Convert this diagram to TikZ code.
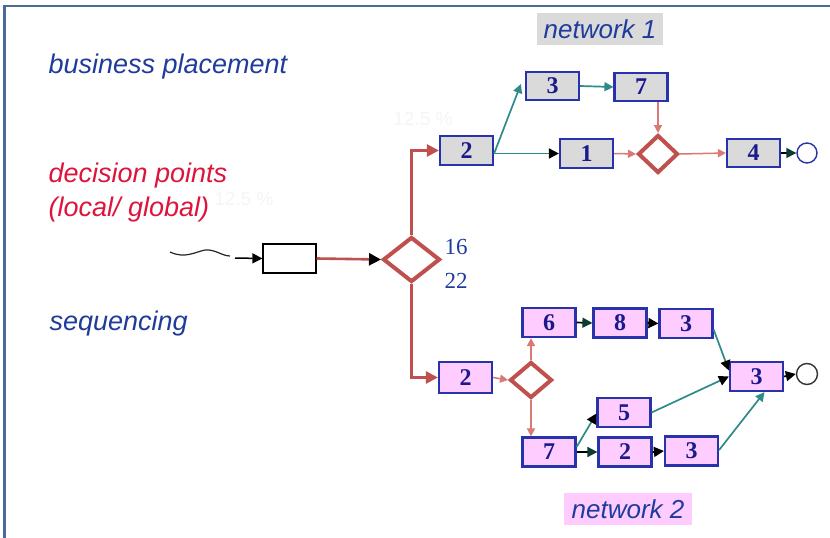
\documentclass[tikz,border=0pt]{standalone}
\usepackage{fontspec}
\setmainfont{Liberation Serif}
\setsansfont{Liberation Sans}
\usetikzlibrary{arrows.meta,shapes.geometric}
\definecolor{frameblue}{RGB}{74,106,156}
\definecolor{boxblue}{RGB}{40,50,170}
\definecolor{numblue}{RGB}{26,26,140}
\definecolor{lblblue}{RGB}{31,60,156}
\definecolor{lblred}{RGB}{222,20,60}
\definecolor{redmain}{RGB}{192,80,77}
\definecolor{redthin}{RGB}{218,120,116}
\definecolor{tealc}{RGB}{46,139,136}
\definecolor{darkgr}{RGB}{10,60,50}
\definecolor{boxgray}{RGB}{218,218,218}
\definecolor{boxpink}{RGB}{255,204,255}
\tikzset{
  procbox/.style={rectangle, draw=boxblue, line width=2.2pt, minimum width=53pt, minimum height=29pt, inner sep=0pt,
    font=\fontsize{24}{26}\selectfont\bfseries, text=numblue},
  graybox/.style={procbox, fill=boxgray},
  pinkbox/.style={procbox, fill=boxpink},
  decdia/.style={diamond, draw=redmain, line width=4pt, inner sep=0pt, fill=white},
  lbl/.style={anchor=base west, font=\fontsize{27}{30}\selectfont\sffamily\itshape},
  faint/.style={text=black!4, font=\fontsize{19}{21}\selectfont\sffamily},
  redarr/.style={draw=redmain, line width=2.6pt, -{Triangle[length=12pt,width=12pt]}},
  thinred/.style={draw=redthin, line width=1.5pt, -{Triangle[length=8pt,width=8pt]}},
  tealarr/.style={draw=tealc, line width=1.7pt, -{Triangle[length=9pt,width=9pt,fill=tealc]}},
  tealblk/.style={draw=tealc, line width=1.7pt, -{Triangle[length=10pt,width=10pt,color=black,fill=black]}},
  blktl/.style={draw=black, line width=1.7pt, -{Triangle[length=10pt,width=10pt,color=darkgr,fill=darkgr]}},
  blkarr/.style={draw=black, line width=1.7pt, -{Triangle[length=10pt,width=10pt]}},
}
\begin{document}
\begin{tikzpicture}[x=1pt,y=-1pt]
\path[use as bounding box, fill=white] (0,0) rectangle (830,538);
% frame
\draw[frameblue, line width=2.8pt] (4.5,538) -- (4.5,6) -- (830,6);

% faint labels
\node[faint] (f1) at (244,199) {12.5 \%};
\node[faint] (f2) at (423,119) {12.5 \%};

% left labels
\node[lbl, text=lblblue] (bp) at (45,73) {business placement};
\node[lbl, text=lblred] (dp) at (45,182) {decision points};
\node[lbl, text=lblred] (lg) at (45,216) {(local/ global)};
\node[lbl, text=lblblue] (sq) at (46,330) {sequencing};

% network titles
\node[fill=boxgray, minimum width=126pt, minimum height=32pt, inner sep=0pt, text=lblblue,
  font=\fontsize{26}{28}\selectfont\sffamily\itshape] (net1) at (600,29) {network 1};
\node[fill=boxpink, minimum width=128pt, minimum height=32pt, inner sep=0pt, text=lblblue,
  font=\fontsize{26}{28}\selectfont\sffamily\itshape] (net2) at (628,509) {network 2};

% start
\coordinate (sqa) at (170,252);
\coordinate (sqb) at (230,256);
\coordinate (sqc) at (235,258);
\draw[black!85, line width=1.2pt] (sqa) .. controls (185,259) and (195,252) .. (205,250) .. controls (215,249) and (222,256) .. (sqb);
\node[rectangle, draw=black, line width=1.3pt, fill=white, minimum width=53pt, minimum height=29pt, inner sep=0pt] (start) at (289.5,258.5) {};
\draw[black, line width=1.5pt, -{Triangle[length=10pt,width=10pt]}] (sqc) -- (start.west);

\node[decdia, minimum width=57pt, minimum height=45pt] (bigdia) at (411.5,259.5) {};
\node[anchor=west, text=lblblue, font=\fontsize{23}{25}\selectfont] (n16) at (441,246.5) {16};
\node[anchor=west, text=lblblue, font=\fontsize{23}{25}\selectfont] (n22) at (441,280.5) {22};

\draw[draw=redmain, line width=2.6pt, -{Triangle[length=12pt,width=12pt,color=black,fill=black]}] (start.east) -- (bigdia.west);

% network 1
\node[graybox] (a2) at (466.5,150.5) {2};
\node[graybox, minimum height=28pt] (a3) at (552.5,86) {3};
\node[graybox, minimum height=28pt] (a7) at (641,87) {7};
\node[graybox] (a1) at (586.5,153.5) {1};
\node[decdia, minimum width=40pt, minimum height=38pt] (adia) at (658,154) {};
\node[graybox, minimum height=28pt] (a4) at (753.5,153) {4};
\node[circle, draw=boxblue, line width=1.4pt, minimum size=20pt, inner sep=0pt, fill=white] (aend) at (807,153) {};

\draw[redarr] (bigdia.north) |- (a2.west);
\draw[tealarr] ([yshift=-3pt]a2.east) -- ([xshift=-4pt,yshift=2pt]a3.west);
\draw[tealblk] (a2.east |- a1.west) -- (a1.west);
\draw[tealarr] (a3.east) -- (a7.west -| a7.west);
\draw[thinred] (a7.south -| adia.north) -- (adia.north);
\draw[thinred] (a1.east) -- (adia.west);
\draw[thinred] (adia.east) -- (a4.west);
\draw[blktl] (a4.east) -- (aend.west);

% network 2
\node[pinkbox, minimum height=31pt] (b2) at (465.5,377.5) {2};
\node[decdia, minimum width=42pt, minimum height=36pt] (bdia) at (531,380) {};
\node[pinkbox] (b6) at (549,322.5) {6};
\node[pinkbox] (b8) at (620,323) {8};
\node[pinkbox] (b3a) at (686,323.5) {3};
\node[pinkbox] (b3r) at (756.5,376.5) {3};
\node[circle, draw=black!80, line width=1.4pt, minimum size=21pt, inner sep=0pt, fill=white] (bend) at (807,374) {};
\node[pinkbox] (b5) at (624,412.5) {5};
\node[pinkbox] (b7) at (549,452) {7};
\node[pinkbox] (b2b) at (625,452) {2};
\node[pinkbox] (b3b) at (691.5,451) {3};

\draw[redarr] (bigdia.south) |- (b2.west);
\draw[thinred] (b2.east) -- (bdia.west);
\draw[thinred] (bdia.north) -- (bdia.north |- b6.south);
\draw[thinred] (bdia.south) -- (bdia.south |- b7.north);
\draw[blktl] (b6.east) -- (b8.west);
\draw[blkarr] (b8.east) -- (b3a.west);
\draw[tealblk] ([yshift=-6pt]b3a.east) -- ([yshift=6pt]b3r.west);
\draw[tealblk] (b5.east) -- (b3r.west);
\draw[tealarr] ([yshift=1pt]b3b.east) -- ([xshift=8pt]b3r.south);
\draw[tealblk] ([yshift=5pt]b7.east) -- ([yshift=-1pt]b5.west);
\draw[blktl] (b7.east) -- (b2b.west);
\draw[blkarr] (b2b.east) -- (b3b.west);
\draw[blkarr] (b3r.east) -- (bend.west);
\end{tikzpicture}
\end{document}
